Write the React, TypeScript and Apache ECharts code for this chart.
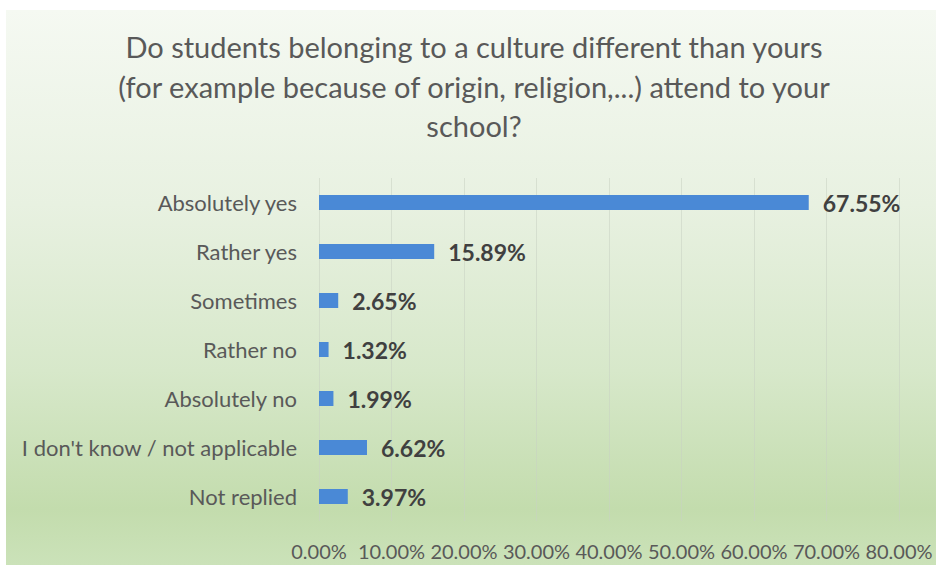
import React, { useEffect, useRef } from "react";
import * as echarts from "echarts";

const categories = [
  "Absolutely yes",
  "Rather yes",
  "Sometimes",
  "Rather no",
  "Absolutely no",
  "I don't know / not applicable",
  "Not replied",
];
const values = [67.55, 15.89, 2.65, 1.32, 1.99, 6.62, 3.97];
const titleText =
  "Do students belonging to a culture different than yours\n(for example because of origin, religion,...) attend to your\nschool?";

const FONT = "Lato, 'Open Sans', sans-serif";

export default function App() {
  const ref = useRef<HTMLDivElement>(null);
  useEffect(() => {
    if (!ref.current) return;
    const chart = echarts.init(ref.current, undefined, { renderer: "svg" });
    chart.setOption({
      animation: false,
      graphic: [
        {
          type: "rect",
          z: -100,
          silent: true,
          shape: { x: 6, y: 10, width: 930, height: 555 },
          style: {
            fill: new echarts.graphic.LinearGradient(0, 0, 0, 1, [
              { offset: 0, color: "#f5f9f2" },
              { offset: 0.35, color: "#e8f1e1" },
              { offset: 0.65, color: "#d7e8ca" },
              { offset: 0.9, color: "#c3dcad" },
              { offset: 1, color: "#cbe2b9" },
            ]),
          },
        },
      ],
      title: {
        text: titleText,
        left: 474,
        top: 27,
        padding: 0,
        textAlign: "center",
        textStyle: {
          fontFamily: FONT,
          fontSize: 29,
          fontWeight: "normal",
          color: "#595959",
          lineHeight: 39.5,
        },
      },
      grid: { left: 319, right: 37, top: 178, bottom: 44, containLabel: false },
      xAxis: {
        type: "value",
        min: 0,
        max: 80,
        interval: 10,
        axisLine: { show: false },
        axisTick: { show: false },
        splitLine: { show: true, lineStyle: { color: "rgba(200,210,195,0.55)", width: 1 } },
        axisLabel: {
          fontFamily: FONT,
          fontSize: 20,
          color: "#595959",
          margin: 20,
          formatter: (v: number) => v.toFixed(2) + "%",
        },
      },
      yAxis: {
        type: "category",
        data: categories,
        inverse: true,
        axisLine: { show: false },
        axisTick: { show: false },
        axisLabel: {
          fontFamily: FONT,
          fontSize: 22,
          color: "#595959",
          margin: 22,
        },
      },
      series: [
        {
          type: "bar",
          data: values,
          barWidth: 15,
          itemStyle: { color: "#4a89d6" },
          label: {
            show: true,
            position: "right",
            distance: 14,
            fontFamily: FONT,
            fontSize: 23,
            fontWeight: "bold",
            color: "#404040",
            formatter: (p: any) => p.value.toFixed(2) + "%",
          },
        },
      ],
    });
    return () => chart.dispose();
  }, []);
  return (
    <div
      ref={ref}
      style={{ position: "fixed", left: 0, top: 0, width: 936, height: 565, background: "#ffffff" }}
    />
  );
}
